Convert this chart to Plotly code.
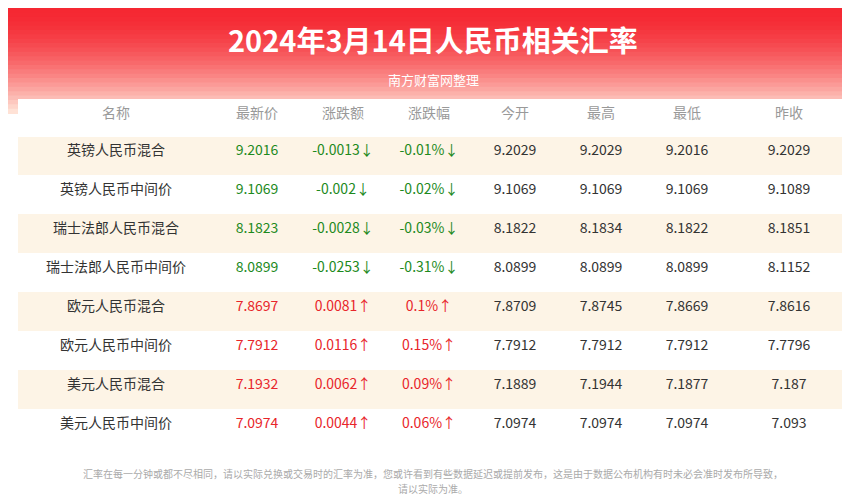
import plotly.graph_objects as go

headers = ["名称", "最新价", "涨跌额", "涨跌幅", "今开", "最高", "最低", "昨收"]
names = ["英镑人民币混合", "英镑人民币中间价", "瑞士法郎人民币混合", "瑞士法郎人民币中间价",
         "欧元人民币混合", "欧元人民币中间价", "美元人民币混合", "美元人民币中间价"]
latest = ["9.2016", "9.1069", "8.1823", "8.0899", "7.8697", "7.7912", "7.1932", "7.0974"]
change = ["-0.0013", "-0.002", "-0.0028", "-0.0253", "0.0081", "0.0116", "0.0062", "0.0044"]
pct = ["-0.01%", "-0.02%", "-0.03%", "-0.31%", "0.1%", "0.15%", "0.09%", "0.06%"]
open_ = ["9.2029", "9.1069", "8.1822", "8.0899", "7.8709", "7.7912", "7.1889", "7.0974"]
high = ["9.2029", "9.1069", "8.1834", "8.0899", "7.8745", "7.7912", "7.1944", "7.0974"]
low = ["9.2016", "9.1069", "8.1822", "8.0899", "7.8669", "7.7912", "7.1877", "7.0974"]
prev = ["9.2029", "9.1089", "8.1851", "8.1152", "7.8616", "7.7796", "7.187", "7.093"]

up = [not c.startswith("-") for c in change]
arrow = lambda s, u: s + ("↑" if u else "↓")
chg_txt = [arrow(c, u) for c, u in zip(change, up)]
pct_txt = [arrow(p, u) for p, u in zip(pct, up)]
col_color = ["#e8252a" if u else "#1d8a1d" for u in up]
dark = ["#333333"] * len(names)
fills = ["#fdf4e6" if i % 2 == 0 else "#ffffff" for i in range(len(names))]

fig = go.Figure(go.Table(
    domain=dict(x=[10/850, 840/850], y=[1-444/500, 1-91/500]),
    columnwidth=[196, 86, 86, 86, 86, 86, 86, 118],
    header=dict(values=headers, fill_color="white", line_color="white", height=37,
                font=dict(color="#999999", size=14, family="Noto Sans CJK SC"), align="center"),
    cells=dict(values=[names, latest, chg_txt, pct_txt, open_, high, low, prev],
               fill_color=[fills]*8, line_color=[fills]*8, height=39, align="center",
               font=dict(color=[dark, col_color, col_color, col_color, dark, dark, dark, dark],
                         size=14, family="Noto Sans CJK SC")),
))

shapes = []
top = (245, 40, 50)
bot = (255, 226, 214)
n = 24
for i in range(n):
    t = i / (n - 1)
    c = tuple(int(top[k] + (bot[k]-top[k]) * t**1.6) for k in range(3))
    y0 = i * 105 / n
    shapes.append(dict(type="rect", xref="paper", yref="paper", x0=0, x1=1,
                       y0=1-(y0+105/n+1)/500, y1=1-y0/500, fillcolor="rgb(%d,%d,%d)" % c,
                       line_width=0, layer="below"))
shapes.append(dict(type="rect", xref="paper", yref="paper", x0=10/850, x1=840/850,
                   y0=1-447/500, y1=1-95/500, fillcolor="white", line_width=0, layer="below"))

fig.update_layout(
    width=850, height=500, margin=dict(l=0, r=0, t=0, b=0),
    paper_bgcolor="white", plot_bgcolor="white", shapes=shapes,
    annotations=[
        dict(text="<b>2024年3月14日人民币相关汇率</b>", x=0.5, y=1-31/500, xref="paper", yref="paper",
             yanchor="middle", showarrow=False, font=dict(color="white", size=29, family="Noto Sans CJK SC")),
        dict(text="南方财富网整理", x=0.5, y=1-71/500, xref="paper", yref="paper",
             yanchor="middle", showarrow=False, font=dict(color="white", size=13, family="Noto Sans CJK SC")),
        dict(text="汇率在每一分钟或都不尽相同，请以实际兑换或交易时的汇率为准，您或许看到有些数据延迟或提前发布，这是由于数据公布机构有时未必会准时发布所导致，",
             x=0.5, y=1-465/500, xref="paper", yref="paper", yanchor="middle", showarrow=False,
             font=dict(color="#aaaaaa", size=10, family="Noto Sans CJK SC")),
        dict(text="请以实际为准。",
             x=0.5, y=1-480/500, xref="paper", yref="paper", yanchor="middle", showarrow=False,
             font=dict(color="#aaaaaa", size=10, family="Noto Sans CJK SC")),
    ],
)
fig.write_html("out.html")
